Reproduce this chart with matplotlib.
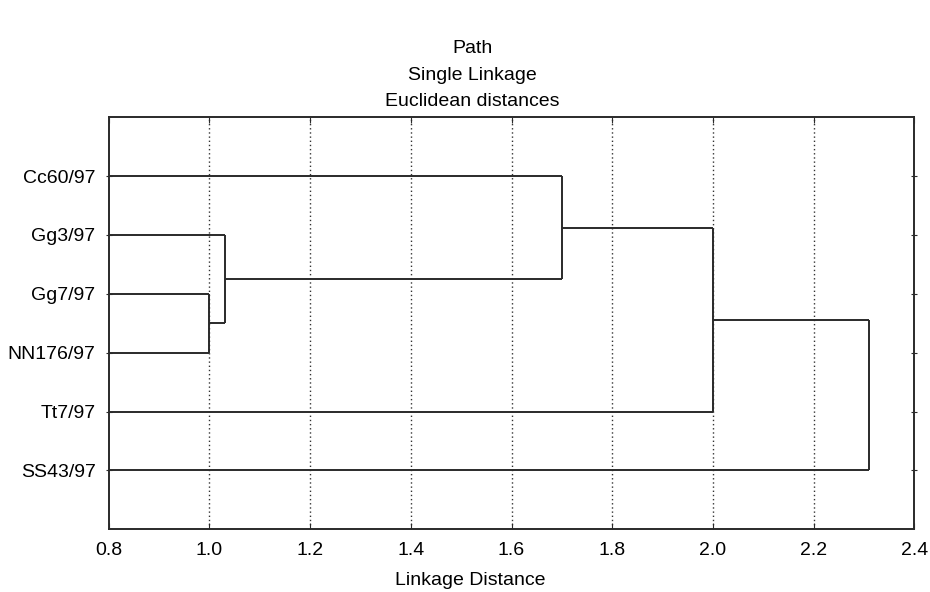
import matplotlib
matplotlib.use("Agg")
import matplotlib.pyplot as plt

plt.rcParams['font.family'] = ['Liberation Sans', 'DejaVu Sans']

# leaves, top to bottom
labels = ['Cc60/97', 'Gg3/97', 'Gg7/97', 'NN176/97', 'Tt7/97', 'SS43/97']
# merges: (left child, right child, linkage distance); children >= 6 are earlier clusters
merge_a = ['Gg7/97', 'Gg3/97', 'Cc60/97', 0, 0]
merge_b = ['NN176/97', 0, 0, 'Tt7/97', 'SS43/97']
heights = [1.00, 1.03, 1.70, 2.00, 2.31]
xticks = [0.8, 1.0, 1.2, 1.4, 1.6, 1.8, 2.0, 2.2, 2.4]

fig = plt.figure(figsize=(9.3, 5.92), dpi=100)
ax = fig.add_axes([0.117, 0.106, 0.866, 0.696])

lc = '#2a2a2a'
lw = 1.4
x0 = 0.8

# node positions: name -> (x, y)
pos = {lab: (x0, i + 1) for i, lab in enumerate(labels)}
prev = None
for a, b, h in zip(merge_a, merge_b, heights):
    na = prev if a == 0 else a
    nb = prev if b == 0 else b
    (xa, ya), (xb, yb) = pos[na], pos[nb]
    ax.plot([xa, h], [ya, ya], color=lc, lw=lw, solid_capstyle='butt')
    ax.plot([xb, h], [yb, yb], color=lc, lw=lw, solid_capstyle='butt')
    ax.plot([h, h], [ya, yb], color=lc, lw=lw, solid_capstyle='butt')
    key = 'c%d' % len(pos)
    pos[key] = (h, (ya + yb) / 2)
    prev = key

for xv in xticks[1:-1]:
    ax.axvline(xv, color='#333333', lw=1.0, ls=(0, (1, 2)), zorder=0)

ax.set_xlim(0.8, 2.4)
ax.set_ylim(7, 0)
ax.set_xticks(xticks)
ax.set_xticklabels(['%.1f' % v for v in xticks])
ax.set_yticks(range(1, len(labels) + 1))
ax.set_yticklabels(labels)

for s in ax.spines.values():
    s.set_linewidth(1.4)
    s.set_color(lc)

ax.tick_params(axis='x', direction='in', length=4, top=True, labelsize=14, pad=9, color=lc)
ax.tick_params(axis='y', direction='inout', length=5, right=True, labelsize=14, pad=7, color=lc)

fig.text(0.508, 0.918, 'Path', ha='center', va='center', fontsize=14)
fig.text(0.508, 0.873, 'Single Linkage', ha='center', va='center', fontsize=14)
fig.text(0.508, 0.829, 'Euclidean distances', ha='center', va='center', fontsize=14)
fig.text(0.506, 0.020, 'Linkage Distance', ha='center', va='center', fontsize=14)

fig.savefig('out.png', dpi=100, facecolor='white')
